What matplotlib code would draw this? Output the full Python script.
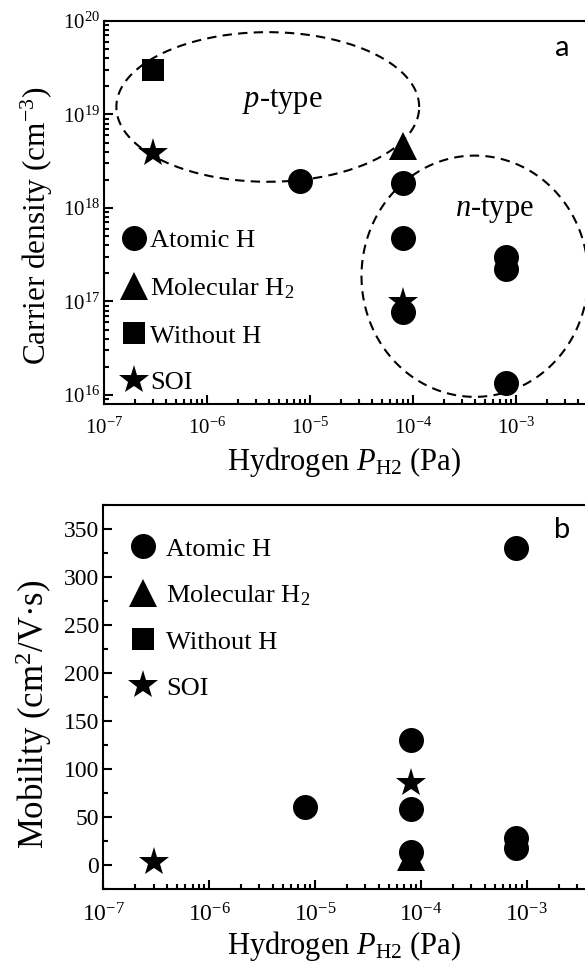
"""Carrier density and mobility vs hydrogen pressure (two panels)"""

import numpy as np
import matplotlib
matplotlib.use("Agg")
from matplotlib import pyplot as plt
from matplotlib.lines import Line2D
from matplotlib.ticker import LogLocator, LogFormatterMathtext, MultipleLocator

plt.rcParams["font.family"] = ["Liberation Serif", "DejaVu Serif"]
plt.rcParams["mathtext.fontset"] = "custom"
plt.rcParams["mathtext.rm"] = "Liberation Serif"
plt.rcParams["mathtext.it"] = "Liberation Serif:italic"
plt.rcParams["axes.unicode_minus"] = False
plt.rcParams["axes.linewidth"] = 1.5

# Panel a: carrier density (cm^-3)
atomic_x = [8e-6, 8e-5, 8e-5, 8e-5, 8e-4, 8e-4, 8e-4]
atomic_n = [1.95e18, 1.85e18, 4.8e17, 7.8e16, 3.0e17, 2.25e17, 1.35e16]
molecular_x = [8e-5]
molecular_n = [4.6e18]
without_x = [3e-7]
without_n = [3.0e19]
soi_x = [3e-7, 8e-5]
soi_n = [3.9e18, 9.8e16]

# Panel b: mobility (cm^2/V.s)
atomic_mu_x = [8e-6, 8e-5, 8e-5, 8e-5, 8e-4, 8e-4, 8e-4]
atomic_mu = [60, 130, 58, 13, 330, 28, 18]
molecular_mu_x = [8e-5]
molecular_mu = [8]
soi_mu_x = [3e-7, 8e-5]
soi_mu = [3, 85]

# dashed regions: (log10 centre x, log10 centre y, half-width, half-height) in decades
p_region = (-5.41, 19.08, 1.47, 0.80)
n_region = (-3.40, 17.27, 1.10, 1.29)

labels = ["Atomic H", "Molecular H$_2$", "Without H", "SOI"]
styles = [dict(marker="o", ms=18), dict(marker="^", ms=20),
          dict(marker="s", ms=16), dict(marker="*", ms=22)]


def draw_region(ax, region):
    """dashed ellipse in log-log space"""
    cx, cy, hw, hh = region
    t = np.linspace(0, 2 * np.pi, 200)
    ax.plot(10 ** (cx + hw * np.cos(t)), 10 ** (cy + hh * np.sin(t)),
            color="black", lw=1.5, ls=(0, (4.5, 3)), zorder=1)


def style_axis(ax, tick_size):
    ax.tick_params(which="both", direction="in", width=1.5, labelsize=tick_size,
                   top=False, right=False)
    ax.tick_params(which="major", length=6.5)
    ax.tick_params(which="minor", length=3.6)
    ax.tick_params(axis="y", pad=3)
    ax.tick_params(axis="x", pad=10)
    ax.spines["right"].set_visible(False)


def main():
    fig = plt.figure(figsize=(5.85, 9.69), dpi=100)

    # ---- panel a ----
    ax1 = fig.add_axes([0.1778, 0.5831, 0.8222, 0.3953])
    ax1.set_xscale("log")
    ax1.set_yscale("log")
    draw_region(ax1, p_region)
    draw_region(ax1, n_region)
    ax1.plot(soi_x, soi_n, ls="none", color="black", mew=0, zorder=2, **styles[3])
    ax1.plot(without_x, without_n, ls="none", color="black", mew=0, zorder=3, **styles[2])
    ax1.plot(molecular_x, molecular_n, ls="none", color="black", mew=0, zorder=3, **styles[1])
    ax1.plot(atomic_x, atomic_n, ls="none", color="black", mew=0, zorder=4, **styles[0])
    ax1.set_xlim(1e-7, 10 ** -2.33)
    ax1.set_ylim(10 ** 15.904, 1e20)
    ax1.xaxis.set_major_locator(LogLocator(base=10, numticks=10))
    ax1.xaxis.set_minor_locator(LogLocator(base=10, subs=np.arange(2, 10), numticks=20))
    ax1.yaxis.set_major_locator(LogLocator(base=10, numticks=10))
    ax1.yaxis.set_minor_locator(LogLocator(base=10, subs=np.arange(2, 10), numticks=20))
    ax1.xaxis.set_major_formatter(LogFormatterMathtext())
    ax1.yaxis.set_major_formatter(LogFormatterMathtext())
    style_axis(ax1, 15)
    ax1.set_xlabel("Hydrogen $P_{\\mathrm{H2}}$ (Pa)", fontsize=22, labelpad=4)
    ax1.set_ylabel("Carrier density (cm$^{-3}$)", fontsize=22.5)
    ax1.yaxis.set_label_coords(-0.102, 0.465)
    ax1.text(10 ** -5.27, 10 ** 19.14, "$p$-type", fontsize=22, ha="center", va="center")
    ax1.text(10 ** -3.21, 10 ** 17.97, "$n$-type", fontsize=22, ha="center", va="center")
    ax1.text(0.953, 0.93, "a", transform=ax1.transAxes, fontsize=21,
             family=["Lato", "DejaVu Sans"], ha="center", va="center")
    handles = [Line2D([], [], ls="none", color="black", mew=0, **s) for s in styles]
    ax1.legend(handles, labels, loc="upper left", bbox_to_anchor=(-0.02, 0.505),
               frameon=False, fontsize=19, handletextpad=-0.2, handlelength=1.6,
               labelspacing=0.89, borderaxespad=0.3)

    # ---- panel b ----
    ax2 = fig.add_axes([0.1761, 0.0826, 0.8239, 0.3963])
    ax2.set_xscale("log")
    ax2.plot(soi_mu_x, soi_mu, ls="none", color="black", mew=0, zorder=2, **styles[3])
    ax2.plot(molecular_mu_x, molecular_mu, ls="none", color="black", mew=0, zorder=3, **styles[1])
    ax2.plot(atomic_mu_x, atomic_mu, ls="none", color="black", mew=0, zorder=4, **styles[0])
    ax2.set_xlim(1e-7, 10 ** -2.45)
    ax2.set_ylim(-25, 375)
    ax2.xaxis.set_major_locator(LogLocator(base=10, numticks=10))
    ax2.xaxis.set_minor_locator(LogLocator(base=10, subs=np.arange(2, 10), numticks=20))
    ax2.xaxis.set_major_formatter(LogFormatterMathtext())
    ax2.yaxis.set_major_locator(MultipleLocator(50))
    ax2.yaxis.set_minor_locator(MultipleLocator(25))
    style_axis(ax2, 17)
    ax2.set_xlabel("Hydrogen $P_{\\mathrm{H2}}$ (Pa)", fontsize=22, labelpad=2)
    ax2.set_ylabel("Mobility (cm$^2$/V·s)", fontsize=25)
    ax2.yaxis.set_label_coords(-0.101, 0.456)
    ax2.text(0.953, 0.935, "b", transform=ax2.transAxes, fontsize=21,
             family=["Lato", "DejaVu Sans"], ha="center", va="center")
    ax2.legend(handles, labels, loc="upper left", bbox_to_anchor=(0.0, 0.964),
               frameon=False, fontsize=19, handletextpad=0.1, handlelength=1.6,
               labelspacing=0.85, borderaxespad=0.3)

    fig.savefig("out.png", dpi=100)


if __name__ == "__main__":
    main()
